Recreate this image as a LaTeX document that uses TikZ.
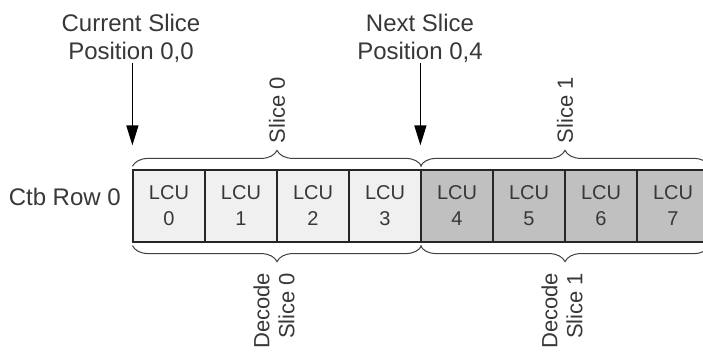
\documentclass[tikz,border=0pt]{standalone}
\usepackage{fontspec}
\setmainfont{Liberation Sans}
\usetikzlibrary{arrows.meta, calc, decorations.pathreplacing}

\definecolor{lightcell}{HTML}{F0F0F0}
\definecolor{darkcell}{HTML}{C0C0C0}
\definecolor{labeltext}{HTML}{383838}

\begin{document}
\begin{tikzpicture}[x=1pt, y=1pt, >={Triangle[length=20pt, width=12pt]},
  cell/.style={draw=black!85, line width=1.2pt, minimum width=72pt,
    minimum height=72pt, inner sep=0pt, align=center,
    font=\fontsize{20}{26}\selectfont, text=labeltext},
  bracepath/.style={decorate, decoration={brace, amplitude=16pt},
    draw=black!75, line width=1pt},
  slicelabel/.style={rotate=90, inner sep=0pt,
    font=\fontsize{22}{25}\selectfont, text=labeltext},
  toplabel/.style={inner sep=0pt, align=center,
    font=\fontsize{24}{28}\selectfont, text=labeltext}]

% === Drawing region ===
\useasboundingbox (0,0) rectangle (703,352);
\clip (0,0) rectangle (703,352);

% === Parameters ===
\pgfmathsetmacro{\cellw}{72}
\pgfmathsetmacro{\rowy}{146}

% === LCU cells ===
\foreach \i in {0,...,7}{
  \pgfmathsetmacro{\cx}{169 + \i*\cellw}
  \ifnum\i<4 \def\cellfill{lightcell}\else \def\cellfill{darkcell}\fi
  \node[cell, fill=\cellfill] (lcu\i) at (\cx, \rowy) {LCU\\\i};
}

% Row label
\node[toplabel, anchor=base east] (ctbrow) at (121, 146) {Ctb Row 0};

% === Slice braces (top) ===
\draw[bracepath] ([yshift=3pt]lcu0.north west) -- ([yshift=3pt]lcu3.north east);
\draw[bracepath] ([yshift=3pt]lcu4.north west) -- ([yshift=3pt]lcu7.north east);
\node[slicelabel, anchor=west] (slice0) at ($(lcu0.north west)!0.5!(lcu3.north east)+(0,26)$) {Slice 0};
\node[slicelabel, anchor=west] (slice1) at ($(lcu4.north west)!0.5!(lcu7.north east)+(0,26)$) {Slice 1};

% === Decode braces (bottom) ===
\draw[bracepath] ([yshift=-3pt]lcu3.south east) -- ([yshift=-3pt]lcu0.south west);
\draw[bracepath] ([yshift=-3pt]lcu7.south east) -- ([yshift=-3pt]lcu4.south west);
\node[slicelabel, anchor=east, align=right] (decode0) at ($(lcu0.south west)!0.5!(lcu3.south east)+(-3,-30)$) {Decode\\Slice 0};
\node[slicelabel, anchor=east, align=right] (decode1) at ($(lcu4.south west)!0.5!(lcu7.south east)+(-3,-30)$) {Decode\\Slice 1};

% === Slice positions ===
\node[toplabel, anchor=south] (curtext) at (131, 289) {Current Slice\\Position 0,0};
\node[toplabel, anchor=south] (nexttext) at (420, 289) {Next Slice\\Position 0,4};

\coordinate (curpos) at ([yshift=24pt]lcu0.north west);
\coordinate (nextpos) at ([yshift=24pt]lcu4.north west);
\draw[->, line width=1.3pt] (curtext.south -| curpos) -- (curpos);
\draw[->, line width=1.3pt] (nexttext.south -| nextpos) -- (nextpos);

\end{tikzpicture}
\end{document}
